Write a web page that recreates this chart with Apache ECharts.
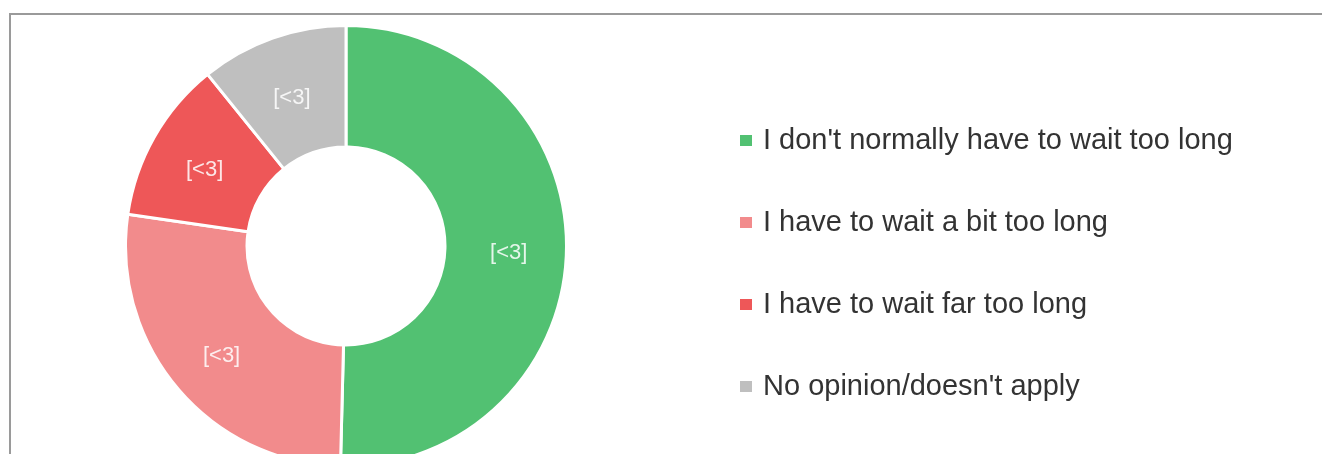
<!DOCTYPE html>
<html>
<head>
<meta charset="utf-8">
<script src="https://cdn.jsdelivr.net/npm/echarts@6/dist/echarts.min.js"></script>
<style>
html,body{margin:0;padding:0;background:#fff;overflow:hidden;}
#frame{position:absolute;left:9px;top:13px;width:1400px;height:600px;border:2px solid #9a9a9a;box-sizing:border-box;}
#chart{position:absolute;left:0;top:0;width:1322px;height:454px;}
</style>
</head>
<body>
<div id="frame"></div>
<div id="chart"></div>
<script>
const categories = ["I don't normally have to wait too long", "I have to wait a bit too long", "I have to wait far too long", "No opinion/doesn't apply"];
const values = [50.4, 26.9, 11.9, 10.8];
const sliceLabels = ["[<3]", "[<3]", "[<3]", "[<3]"];
const colors = ['#52c172', '#f28b8c', '#ee5758', '#bfbfbf'];

const chart = echarts.init(document.getElementById('chart'), null, {renderer: 'canvas'});
chart.setOption({
  animation: false,
  color: colors,
  legend: {
    orient: 'vertical',
    left: 735,
    top: 118,
    icon: 'rect',
    itemWidth: 12,
    itemHeight: 11,
    itemGap: 47,
    itemStyle: {borderWidth: 0},
    textStyle: {
      fontFamily: 'Liberation Sans, Arial, sans-serif',
      fontSize: 29,
      lineHeight: 35,
      color: '#333333',
      padding: [0, 0, 0, 6]
    },
    data: categories
  },
  series: [{
    type: 'pie',
    center: [346, 246],
    radius: [99, 220.5],
    startAngle: 90,
    clockwise: true,
    avoidLabelOverlap: false,
    itemStyle: {borderColor: '#ffffff', borderWidth: 3},
    label: {
      show: true,
      position: 'inside',
      offset: [0, 5],
      color: 'rgba(255,255,255,0.85)',
      fontFamily: 'Liberation Sans, Arial, sans-serif',
      fontSize: 22,
      formatter: p => sliceLabels[p.dataIndex]
    },
    labelLine: {show: false},
    emphasis: {disabled: true},
    data: categories.map((c, i) => ({name: c, value: values[i]}))
  }]
});
</script>
</body>
</html>
